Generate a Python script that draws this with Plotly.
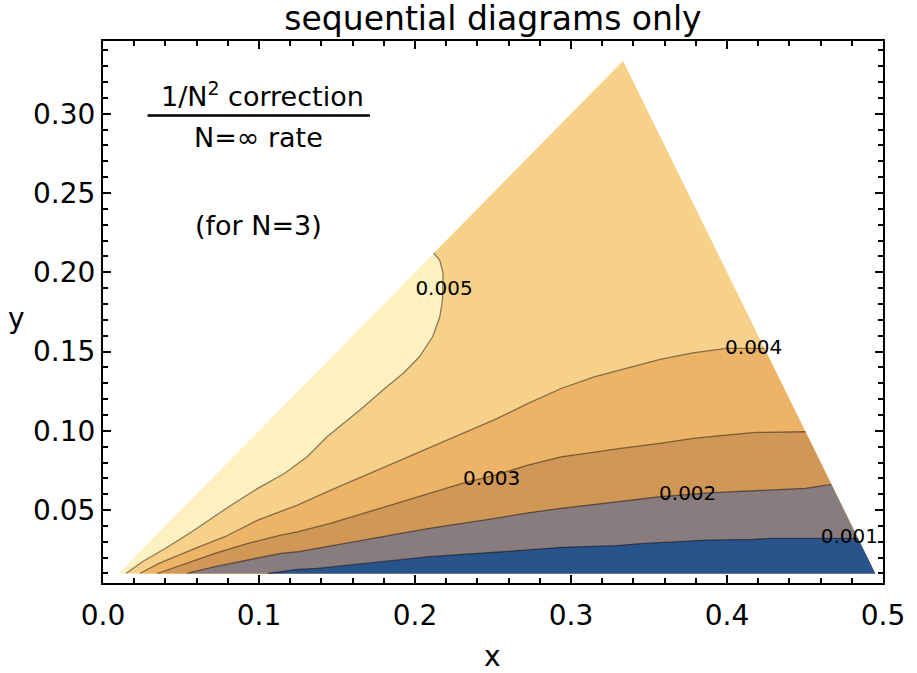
import plotly.graph_objects as go

# ---------------- data ----------------
# triangular domain: y <= x, 2x + y <= 1, y >= 0.01
tri_x = [0.01, 1/3, 0.495]
tri_y = [0.01, 1/3, 0.01]

levels = [0.001, 0.002, 0.003, 0.004, 0.005]
level_labels = ["0.001", "0.002", "0.003", "0.004", "0.005"]

# contour lines (x, y)
c001_x = [0.1056, 0.1246, 0.1373, 0.1669, 0.2091, 0.2514, 0.2937, 0.3296, 0.3444, 0.3867, 0.4163, 0.4290, 0.4607, 0.4839]
c001_y = [0.0100, 0.0126, 0.0132, 0.0164, 0.0206, 0.0234, 0.0265, 0.0276, 0.0288, 0.0311, 0.0315, 0.0322, 0.0322, 0.0322]

c002_x = [0.0538, 0.0718, 0.0929, 0.1140, 0.1246, 0.1669, 0.2091, 0.2514, 0.2725, 0.2937, 0.3296, 0.3571, 0.3888, 0.4163, 0.4501, 0.4669]
c002_y = [0.0100, 0.0143, 0.0185, 0.0227, 0.0237, 0.0311, 0.0385, 0.0448, 0.0483, 0.0511, 0.0552, 0.0584, 0.0609, 0.0620, 0.0637, 0.0662]

c003_x = [0.0348, 0.0506, 0.0718, 0.0929, 0.1140, 0.1246, 0.1457, 0.1669, 0.1880, 0.2091, 0.2303, 0.2514, 0.2725, 0.2937, 0.3148, 0.3318, 0.3571, 0.3782, 0.3994, 0.4184, 0.4503]
c003_y = [0.0100, 0.0153, 0.0227, 0.0290, 0.0342, 0.0363, 0.0416, 0.0479, 0.0542, 0.0605, 0.0668, 0.0720, 0.0784, 0.0836, 0.0868, 0.0889, 0.0921, 0.0952, 0.0973, 0.0990, 0.0994]

c004_x = [0.0236, 0.0358, 0.0591, 0.0781, 0.0992, 0.1246, 0.1457, 0.1669, 0.1880, 0.2091, 0.2303, 0.2514, 0.2725, 0.2937, 0.3148, 0.3318, 0.3571, 0.3782, 0.3994, 0.4240]
c004_y = [0.0100, 0.0164, 0.0259, 0.0332, 0.0437, 0.0531, 0.0624, 0.0714, 0.0803, 0.0892, 0.0982, 0.1072, 0.1173, 0.1267, 0.1340, 0.1383, 0.1450, 0.1492, 0.1520, 0.1520]

c005_x = [0.0147, 0.0252, 0.0401, 0.0569, 0.0823, 0.0992, 0.1162, 0.1309, 0.1436, 0.1647, 0.1817, 0.1923, 0.2028, 0.2113, 0.2159, 0.2176, 0.2180, 0.2159, 0.2120]
c005_y = [0.0100, 0.0174, 0.0259, 0.0363, 0.0532, 0.0637, 0.0731, 0.0836, 0.0962, 0.1131, 0.1277, 0.1362, 0.1467, 0.1593, 0.1719, 0.1824, 0.1992, 0.2076, 0.2120]

# contour-label positions (x, y)
label_x = [0.4784, 0.3748, 0.2491, 0.4171, 0.2186]
label_y = [0.0323, 0.0596, 0.0692, 0.1517, 0.1889]

x_ticks = [0.0, 0.1, 0.2, 0.3, 0.4, 0.5]
y_ticks = [0.05, 0.10, 0.15, 0.20, 0.25, 0.30]

# band colours, low -> high
band_colors = ["#27548B", "#897C7E", "#D19756", "#EDB366", "#F7D18A", "#FDF0C1"]

FONT = "DejaVu Sans"

fig = go.Figure()

lines = [(c001_x, c001_y), (c002_x, c002_y), (c003_x, c003_y), (c004_x, c004_y), (c005_x, c005_y)]

# top band: whole triangle
fig.add_trace(go.Scatter(x=tri_x + [tri_x[0]], y=tri_y + [tri_y[0]], mode="lines",
                         fill="toself", fillcolor=band_colors[5], line=dict(width=0),
                         hoverinfo="skip", showlegend=False))
# bands below each contour line, drawn from highest level down
for i in range(4, -1, -1):
    lx, ly = lines[i]
    px = list(lx)
    py = list(ly)
    if i == 4:
        # 0.005 line ends on the left edge -> go round through the apex
        px += [tri_x[1], tri_x[2]]
        py += [tri_y[1], tri_y[2]]
    else:
        px += [tri_x[2]]
        py += [tri_y[2]]
    px.append(lx[0])
    py.append(ly[0])
    fig.add_trace(go.Scatter(x=px, y=py, mode="lines", fill="toself",
                             fillcolor=band_colors[i], line=dict(width=0),
                             hoverinfo="skip", showlegend=False))

# contour lines
for lx, ly in lines:
    fig.add_trace(go.Scatter(x=lx, y=ly, mode="lines",
                             line=dict(color="rgba(0,0,0,0.45)", width=1.3),
                             hoverinfo="skip", showlegend=False))

# contour labels
fig.add_trace(go.Scatter(x=label_x, y=label_y, mode="text", text=level_labels,
                         textfont=dict(family=FONT, size=20, color="black"),
                         textposition="middle center", hoverinfo="skip", showlegend=False))

axis_common = dict(
    showgrid=False, zeroline=False, showline=True, linecolor="black", linewidth=2,
    mirror="ticks", ticks="inside", ticklen=8, tickwidth=2, tickcolor="black",
    tickfont=dict(family=FONT, size=28, color="black"),
)

fig.update_xaxes(range=[0, 0.5], tickvals=x_ticks, ticktext=[f"{v:.1f}" for v in x_ticks],
                 ticklabelstandoff=6,
                 minor=dict(ticks="inside", dtick=0.02, tick0=0, ticklen=5, tickwidth=1.5, tickcolor="black"),
                 **axis_common)
fig.update_yaxes(range=[0.004, 0.3459], tickvals=y_ticks, ticktext=[f"{v:.2f}" for v in y_ticks],
                 minor=dict(ticks="inside", dtick=0.01, tick0=0, ticklen=5, tickwidth=1.5, tickcolor="black"),
                 **axis_common)

W, H = 917, 673
L, R, T, B = 103, 25, 41, 90
pw, ph = W - L - R, H - T - B

def pxx(p):
    return (p - L) / pw

def pyy(p):
    return (H - B - p) / ph

annos = [
    dict(text="1/N<sup>2</sup> correction", x=pxx(264), y=pyy(94), size=27),
    dict(text="N=∞ rate", x=pxx(260), y=pyy(137.5), size=27),
    dict(text="(for N=3)", x=pxx(260), y=pyy(225.5), size=27),
    dict(text="x", x=pxx(497), y=pyy(656), size=28),
    dict(text="y", x=pxx(15), y=pyy(318), size=28),
]
for a in annos:
    fig.add_annotation(text=a["text"], x=a["x"], y=a["y"], xref="paper", yref="paper",
                       xanchor="center", yanchor="middle", showarrow=False,
                       font=dict(family=FONT, size=a["size"], color="black"))

fig.add_shape(type="line", xref="paper", yref="paper", x0=pxx(148), x1=pxx(373),
              y0=pyy(115.5), y1=pyy(115.5), line=dict(color="black", width=2.5))

fig.update_layout(
    width=W, height=H, autosize=False,
    margin=dict(l=L, r=R, t=T, b=B),
    paper_bgcolor="white", plot_bgcolor="white",
    title=dict(text="sequential diagrams only", x=0.5, xref="paper", xanchor="center",
               y=1 - 18 / H, yanchor="middle",
               font=dict(family=FONT, size=33, color="black")),
    showlegend=False,
)

# remove the default page margin so the figure sits at the window's top-left corner
fig.write_html("out.html", config={"displayModeBar": False},
               post_script="document.body.style.margin='0';document.body.style.overflow='hidden';")
